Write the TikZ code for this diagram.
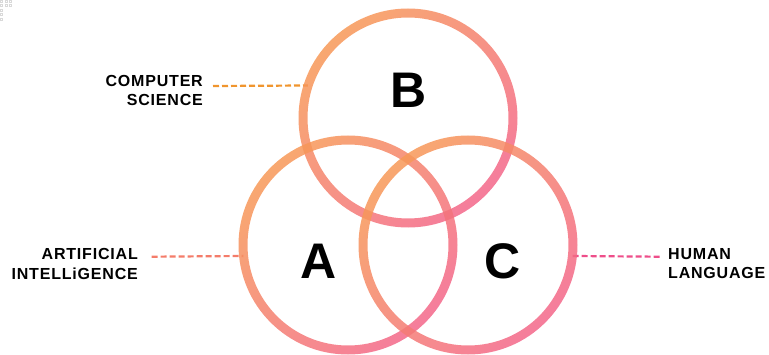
\documentclass[tikz,border=0pt]{standalone}
\usepackage{fontspec}
\setmainfont{Liberation Sans}
\usetikzlibrary{positioning}
\definecolor{ringorange}{HTML}{F79957}
\definecolor{ringpink}{HTML}{F3668A}
\definecolor{csdash}{HTML}{F0952E}
\definecolor{aidash}{HTML}{F47C6A}
\definecolor{hldash}{HTML}{EE4E8A}
\tikzset{ring/.style={circle,minimum size=210pt,inner sep=0pt},
ringband/.style={top color=ringorange,bottom color=ringpink,shading angle=45,even odd rule,fill opacity=0.85},
tag/.style={inner sep=0pt,align=#1,font=\bfseries\fontsize{16}{19.5}\selectfont\addfontfeatures{LetterSpace=5}},
letter/.style={inner sep=0pt,font=\bfseries\fontsize{50}{50}\selectfont},
lnk/.style={dash pattern=on 6pt off 3pt,line width=2.2pt}}
\begin{document}
\begin{tikzpicture}[x=1pt,y=1pt]
\useasboundingbox(0,0)rectangle(769,354);
% faint dots top left
\foreach\p in{(1,353),(5.7,353),(10,353),(1,348.3),(5.7,348.3),(10,348.3),(1,344),(1,339.7),(1,335)}
  \draw[gray!30,line width=0.4pt]\p++(-1,-1)rectangle++(2,2);
\node[ring](B)at(408,236){};
\node[ring](A)at(348,109){};\node[ring](C)at(468,109){};
% labels
\node[tag=right,anchor=north east](cs)at(203,279){COMPUTER\\SCIENCE};
\node[tag=right,anchor=north east](ai)at(138,105.7){ARTIFICIAL\\INTELLiGENCE};
\node[tag=left,anchor=north west](hl)at(668,106){HUMAN\\LANGUAGE};
\coordinate(csin)at(213,268);\coordinate(aiin)at(151.7,97.3);\coordinate(hlin)at(660,97.3);
\draw[lnk,csdash](csin)--(B.162);
\draw[lnk,aidash](aiin)--(A.186);
\draw[lnk,hldash](C.-6)--(hlin);
% rings
\foreach\n in{B,A,C}\shade[ringband](\n)circle[radius=109.5](\n)circle[radius=100.5];
\node[letter](la)at(318.3,92.3){A};
\node[letter](lb)at(409,263.5){B};
\node[letter](lc)at(502.5,92.5){C};
\end{tikzpicture}
\end{document}
